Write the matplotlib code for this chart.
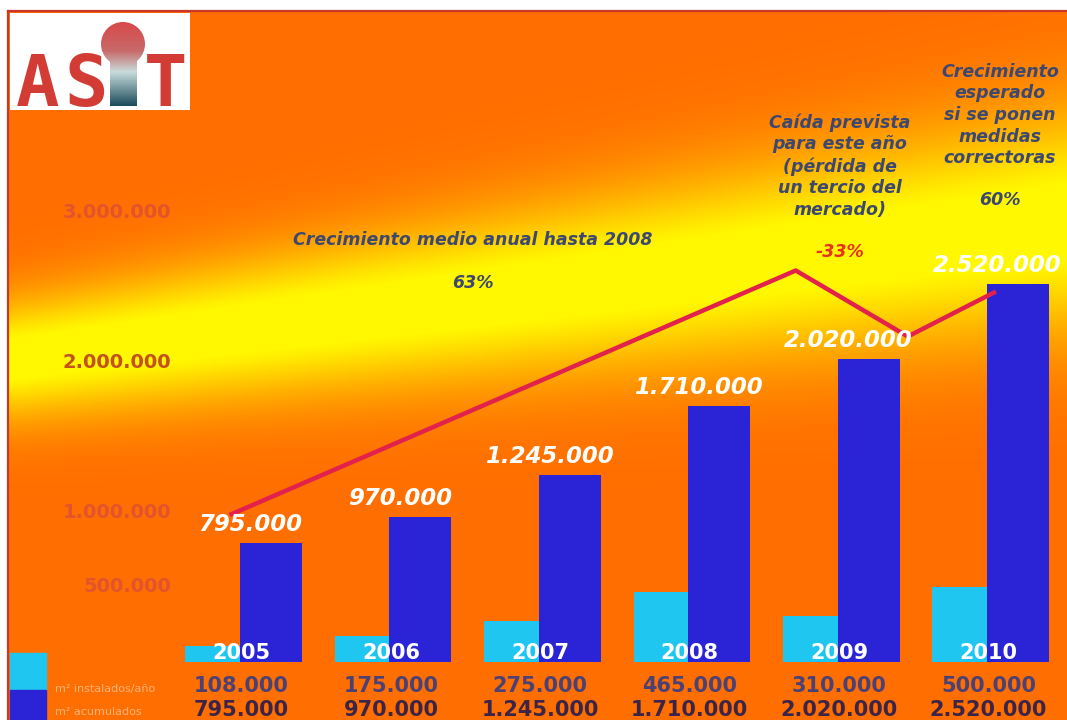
import numpy as np
import matplotlib
matplotlib.use("Agg")
import matplotlib.pyplot as plt
from matplotlib import transforms
from matplotlib.patches import Rectangle, Circle, PathPatch
from matplotlib.path import Path
from matplotlib.colors import LinearSegmentedColormap

# ---------------- data ----------------
years = ["2005", "2006", "2007", "2008", "2009", "2010"]
installed = [108000, 175000, 275000, 465000, 310000, 500000]
cumulative = [795000, 970000, 1245000, 1710000, 2020000, 2520000]
installed_labels = ["108.000", "175.000", "275.000", "465.000", "310.000", "500.000"]
cumulative_labels = ["795.000", "970.000", "1.245.000", "1.710.000", "2.020.000", "2.520.000"]
ytick_values = [500000, 1000000, 2000000, 3000000]
ytick_labels = ["500.000", "1.000.000", "2.000.000", "3.000.000"]
trend_x = [-0.07, 3.72, 4.47, 5.06]
trend_y = [980000, 2610000, 2170000, 2470000]

W, H = 1067, 720
fig = plt.figure(figsize=(W / 100, H / 100), dpi=100)
fig.patch.set_facecolor("white")

def fx(p):
    return p / W

def fy(p):
    return 1 - p / H

# background gradient axes (decorative)
bg = fig.add_axes([fx(8), 0, 1 - fx(8), fy(11)])
bg.set_axis_off()
xs = np.arange(8, W)
ys = np.arange(11, H)
X, Y = np.meshgrid(xs, ys)
yc = 360 - 0.13 * X
sig = 42 + 0.035 * X
t = np.clip(1.12 * np.exp(-0.5 * ((Y - yc) / sig) ** 2), 0, 1)
orange = np.array([255, 110, 0]) / 255
yellow = np.array([255, 248, 0]) / 255
img = orange[None, None, :] * (1 - t[..., None]) + yellow[None, None, :] * t[..., None]
bg.imshow(img, aspect="auto", extent=[0, 1, 0, 1], origin="upper")
bg.set_xlim(0, 1)
bg.set_ylim(0, 1)

# border lines
fig.add_artist(plt.Line2D([fx(8), 1], [fy(11), fy(11)], color="#c8372a", lw=1.6))
fig.add_artist(plt.Line2D([fx(8), fx(8)], [0, fy(11)], color="#c8372a", lw=1.6))

# main data axes
ax = fig.add_axes([0, 0, 1, 1])
ax.patch.set_alpha(0)
ax.set_axis_off()
x0, dx = 240, 149.4
zero_px, per_m = 662, 150
ax.set_xlim(-x0 / dx, (W - x0) / dx)
ax.set_ylim(-(H - zero_px) / per_m * 1e6, zero_px / per_m * 1e6)

idx = np.arange(len(years))
cyan_w, blue_w = 0.365, 0.415
ax.bar(idx, installed, width=-cyan_w, align="edge", color="#1fc6ef", zorder=2)
ax.bar(idx, cumulative, width=blue_w, align="edge", color="#2b24d6", zorder=2)

# trend line
ax.plot(trend_x, trend_y, color="#e2214c", lw=3.2, zorder=3, solid_capstyle="butt")

# value labels above blue bars
for i, (v, lab) in enumerate(zip(cumulative, cumulative_labels)):
    ax.annotate(lab, (i + 0.07, v), xytext=(0, 5), textcoords="offset points",
                ha="center", va="bottom", color="white", fontsize=16.5,
                fontweight="bold", fontstyle="italic", zorder=4)

bt = transforms.blended_transform_factory(ax.transData, ax.transAxes)
for i, y in enumerate(years):
    ax.text(i + 0.01, fy(653), y, transform=bt, ha="center", va="center",
            color="white", fontsize=15, fontweight="bold", zorder=4)
    ax.text(i + 0.01, fy(686), installed_labels[i], transform=bt, ha="center",
            va="center", color="#4b4175", fontsize=15, fontweight="bold", zorder=4)
    ax.text(i + 0.01, fy(710), cumulative_labels[i], transform=bt, ha="center",
            va="center", color="#3b2448", fontsize=15, fontweight="bold", zorder=4)

# y labels
bt2 = transforms.blended_transform_factory(ax.transAxes, ax.transData)
for v, lab in zip(ytick_values, ytick_labels):
    col = "#c4501c" if v == 2000000 else "#e4542c"
    ax.text(fx(171), v, lab, transform=bt2, ha="right", va="center",
            color=col, fontsize=14, fontweight="bold")

# legend
fig.add_artist(Rectangle((fx(10), fy(690)), fx(36), 37 / H, color="#1fc6ef"))
fig.add_artist(Rectangle((fx(10), 0), fx(36), 30 / H, color="#2b24d6"))
fig.text(fx(55), fy(689), "m² instalados/año", color="#ffb27a", fontsize=8, va="center")
fig.text(fx(55), fy(712), "m² acumulados", color="#ffb27a", fontsize=8, va="center")

# annotations
note_col = "#3d4870"
fs = 12.5
fig.text(fx(473), fy(240), "Crecimiento medio anual hasta 2008", ha="center", va="center",
         color=note_col, fontsize=fs, fontweight="bold", fontstyle="italic")
fig.text(fx(473), fy(283), "63%", ha="center", va="center",
         color=note_col, fontsize=fs, fontweight="bold", fontstyle="italic")
fig.text(fx(840), fy(166), "Caída prevista\npara este año\n(pérdida de\nun tercio del\nmercado)",
         ha="center", va="center", color=note_col, fontsize=fs, fontweight="bold",
         fontstyle="italic", linespacing=1.25)
fig.text(fx(840), fy(252), "-33%", ha="center", va="center", color="#e8321e",
         fontsize=fs, fontweight="bold", fontstyle="italic")
fig.text(fx(1000), fy(115), "Crecimiento\nesperado\nsi se ponen\nmedidas\ncorrectoras",
         ha="center", va="center", color=note_col, fontsize=fs, fontweight="bold",
         fontstyle="italic", linespacing=1.25)
fig.text(fx(1000), fy(200), "60%", ha="center", va="center", color=note_col,
         fontsize=fs, fontweight="bold", fontstyle="italic")

# logo
lg = fig.add_axes([fx(10), fy(110), fx(180), 97 / H])
lg.set_xlim(0, 180)
lg.set_ylim(97, 0)
lg.set_axis_off()
lg.add_patch(Rectangle((0, 0), 180, 97, color="white"))
red = "#d23c34"
for ch, cx in [("A", 28), ("S", 76), ("T", 156)]:
    lg.text(cx, 93, ch, ha="center", va="baseline", color=red, fontsize=52,
            fontweight="bold", family="DejaVu Sans Mono")
grad = LinearSegmentedColormap.from_list(
    "ig", [(0, "#d84848"), (0.35, "#c86a6a"), (0.6, "#c8dcdc"), (1, "#1c4c5c")])
gimg = np.linspace(0, 1, 100)[:, None]
im = lg.imshow(gimg, cmap=grad, aspect="auto", extent=[90, 136, 93, 8], zorder=3)
circ = Circle((113, 31), 22).get_path().transformed(
    transforms.Affine2D().scale(22).translate(113, 31))
rect = Path([(100, 31), (127, 31), (127, 93), (100, 93), (100, 31)])
clip = PathPatch(Path.make_compound_path(circ, rect), transform=lg.transData,
                 facecolor="none", edgecolor="none")
lg.add_patch(clip)
im.set_clip_path(clip)

fig.savefig("out.png", dpi=100)
